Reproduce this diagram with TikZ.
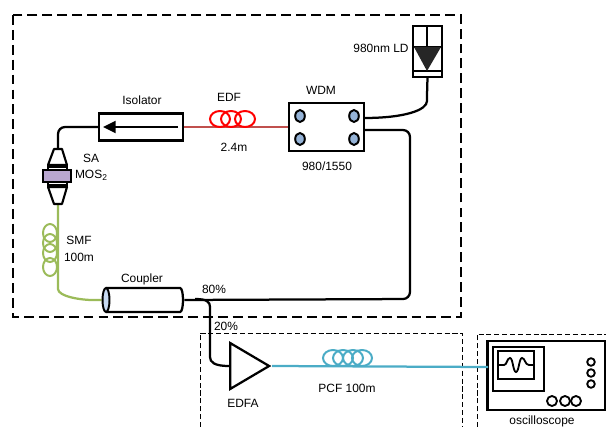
\documentclass[tikz,border=0pt]{standalone}
\usepackage{fontspec}
\setmainfont{Liberation Sans}
\usetikzlibrary{arrows.meta, shapes.geometric}
\definecolor{edfRed}{HTML}{C0504D}
\definecolor{smfGreen}{HTML}{9BBB59}
\definecolor{pcfBlue}{HTML}{4BACC6}
\definecolor{saLilac}{HTML}{B9A7D0}
\definecolor{portBlue}{HTML}{95B3D7}
\definecolor{endBlue}{HTML}{C6D9F1}

\begin{document}
\begin{tikzpicture}[
    x=0.025cm, y=-0.025cm,
    lab/.style={font=\fontsize{8.5}{10}\selectfont, inner sep=0pt, align=center},
    comp/.style={draw, line width=1.6pt, fill=white, inner sep=0pt},
    fiber/.style={line width=1.6pt, rounded corners=5pt},
    loopcoil/.style={ellipse, draw, line width=1.4pt, inner sep=0pt, minimum width=0.5cm, minimum height=0.4cm},
    port/.style={ellipse, draw, line width=1.4pt, fill=portBlue, inner sep=0pt, minimum width=0.24cm, minimum height=0.3cm},
    knob/.style={circle, draw, line width=1.3pt, inner sep=0pt, minimum size=0.19cm},
    bigdash/.style={line width=1.9pt, dash pattern=on 7pt off 3.6pt},
    thindash/.style={line width=0.6pt, dash pattern=on 3.6pt off 2pt}
]
\useasboundingbox (0,0) rectangle (606,427);

% Dashed frames
\draw[bigdash] (13,15) rectangle (461,317);
\draw[thindash] (200,427) -- (200,333) -- (462,333) -- (462,427);
\draw[thindash] (477,427) -- (477,334) -- (606,334);

% Components
\node[comp, minimum width=2.1cm, minimum height=0.675cm] (iso) at (141,127) {};
\node[comp, minimum width=1.875cm, minimum height=1.2cm] (wdm) at (326.5,127) {};
\node[comp, minimum width=0.725cm, minimum height=1.275cm] (ld) at (427.5,51.5) {};
\node[comp, fill=saLilac, minimum width=0.7cm, minimum height=0.3cm] (sa) at (57,176) {};
\node[inner sep=0pt, minimum width=2.05cm, minimum height=0.6cm] (coupler) at (143,300) {};
\node[comp, isosceles triangle, isosceles triangle stretches, minimum width=1.15cm, minimum height=0.975cm, anchor=lower side] (edfa) at (229,366) {};
\node[comp, line width=1.8pt, minimum width=2.95cm, minimum height=1.725cm] (scope) at (546.5,375.5) {};

\coordinate (saTop) at (58,149);
\coordinate (saBot) at (58,204);
\coordinate (wdmUp) at (364,118);
\coordinate (wdmDn) at (364,130);
\coordinate (scopeIn) at (488,367);

% Fibres
\draw[fiber] (iso.west) -| (saTop);
\draw[fiber, edfRed, line width=1.4pt] (iso.east) -- (wdm.west);
\draw[fiber] (ld.south) -- (427,94) .. controls (427,110) and (405,118) .. (wdmUp);
\draw[fiber] (wdmDn) -- (410,130) -- (410,299) -- (coupler.east);
\draw[fiber, smfGreen] (saBot) -- (58,282) .. controls (58,296) and (80,301) .. (coupler.west);
\draw[fiber] (195,299) .. controls (207,299) and (210,302) .. (210,314) -- (210,350) .. controls (210,362) and (214,366) .. (edfa.lower side);
\draw[fiber, pcfBlue] (edfa.apex) -- (scopeIn);

% Coupler body
\draw[line width=1.6pt, fill=white] (106,288) -- (180,288) .. controls (184,288) and (184,312) .. (180,312) -- (106,312);
\draw[line width=1.4pt, fill=endBlue] (106,300) ellipse (3.5 and 12);

% Isolator arrow
\draw[line width=1.6pt, -{Triangle[length=9pt, width=8.5pt]}] (178,127) -- (103,127);

% Coils
\foreach \x in {220, 231, 245} {
    \node[loopcoil, red] at (\x,119) {};
}
\foreach \x in {333, 343, 353, 362} {
    \node[loopcoil, pcfBlue] at (\x,358) {};
}
\foreach \y in {233, 243, 253, 267} {
    \node[loopcoil, smfGreen, minimum width=0.35cm, minimum height=0.45cm] at (50,\y) {};
}

% Saturable absorber holders
\draw[line width=1.5pt, line join=round] (54,149) -- (62,149) -- (67,165) -- (48,165) -- cycle;
\draw[line width=1.5pt] (48,165) -- (48,170) (67,165) -- (67,170) (48,167) -- (67,167);
\draw[line width=1.5pt, line join=round] (54,204) -- (62,204) -- (67,187) -- (48,187) -- cycle;
\draw[line width=1.5pt] (48,182) -- (48,187) (67,182) -- (67,187) (48,185) -- (67,185);

% WDM ports
\foreach \x/\y in {300/116, 354/116, 300/139, 354/139} {
    \node[port] at (\x,\y) {};
}

% Laser diode
\draw[line width=1.5pt] (427,26) -- (427,47);
\draw[line width=1.5pt] (413,47) -- (442,47);
\draw[line width=1.5pt] (413,71) -- (442,71);
\fill[black!85] (414,47) -- (441,47) -- (427,71) -- cycle;

% Oscilloscope
\draw[line width=1.3pt] (493,347) rectangle (544,391);
\draw[line width=1.3pt] (498,351) rectangle (534,379);
\draw[line width=1.3pt] (498,365) -- (504,365) .. controls (507,365) and (507,358) .. (510,358) .. controls (513,358) and (513,372) .. (516,372) .. controls (519,372) and (519,358) .. (522,358) .. controls (525,358) and (525,365) .. (529,365) -- (534,365);
\foreach \y in {362, 373, 384} {
    \node[knob] at (591,\y) {};
}
\foreach \x in {552, 565, 576} {
    \node[knob, minimum size=0.25cm] at (\x,401) {};
}

% Labels
\node[lab] (lLd) at (381,48) {980nm LD};
\node[lab] (lWdm) at (321,90) {WDM};
\node[lab] (lWave) at (327,166) {980/1550};
\node[lab] (lEdf) at (229,97) {EDF};
\node[lab] (lLen) at (234,147) {2.4m};
\node[lab] (lIso) at (142,100) {Isolator};
\node[lab] (lSa) at (91,158) {SA};
\node[lab] (lMos) at (91,175) {MOS\raisebox{-0.3ex}{\fontsize{6}{6}\selectfont 2}};
\node[lab] (lSmf) at (79,240) {SMF};
\node[lab] (lSmfLen) at (79,257) {100m};
\node[lab] (lCoup) at (142,279) {Coupler};
\node[lab] (lEighty) at (214,289) {80\%};
\node[lab] (lTwenty) at (226,326) {20\%};
\node[lab] (lEdfa) at (243,403) {EDFA};
\node[lab] (lPcf) at (347,388) {PCF 100m};
\node[lab] (lScope) at (542,421) {oscilloscope};

\end{tikzpicture}
\end{document}
